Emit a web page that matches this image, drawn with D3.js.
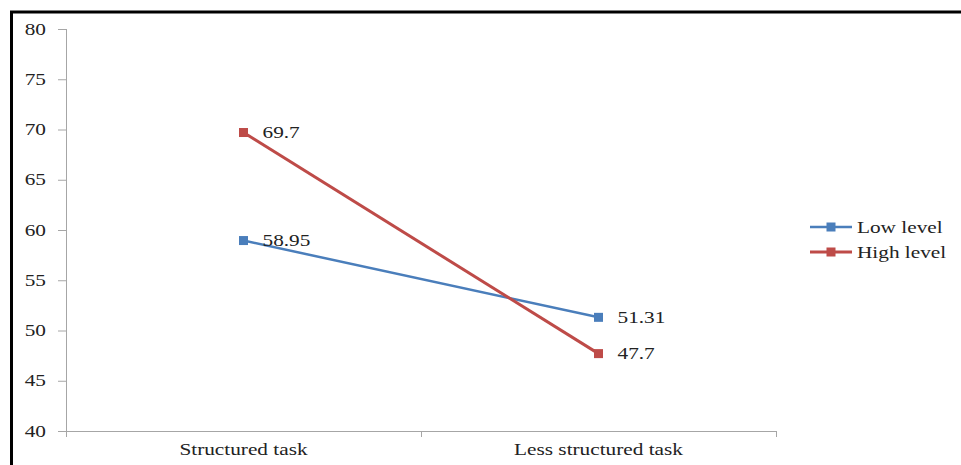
<!DOCTYPE html>
<html>
<head>
<meta charset="utf-8">
<script src="https://cdn.jsdelivr.net/npm/d3@7"></script>
<style>
  html, body { margin: 0; padding: 0; background: #fff; }
  svg { display: block; }
  text { font-family: "Liberation Serif", "Times New Roman", serif; fill: #222; }
</style>
</head>
<body>
<svg id="chart" width="961" height="465"></svg>
<script>
const categories = ["Structured task", "Less structured task"];
const seriesNames = ["Low level", "High level"];
const lowLevel = [58.95, 51.31];
const highLevel = [69.7, 47.7];
const yTicks = [40, 45, 50, 55, 60, 65, 70, 75, 80];
const colors = ["#4a7ebb", "#be4b48"];

const series = [
  { name: seriesNames[0], values: lowLevel, color: colors[0], width: 2.5 },
  { name: seriesNames[1], values: highLevel, color: colors[1], width: 3 }
];

const STRETCH = 1.33;

// widen text horizontally around its anchor point
function stretch(sel) {
  sel.each(function () {
    const t = d3.select(this);
    const tx = +t.attr("x") || 0;
    const ty = +t.attr("y") || 0;
    t.attr("x", 0).attr("y", 0)
      .attr("transform", `translate(${tx},${ty}) scale(${STRETCH},1)`);
  });
}

const svg = d3.select("#chart");

// outer frame
svg.append("rect")
  .attr("x", 11.5).attr("y", 12)
  .attr("width", 1000).attr("height", 500)
  .attr("fill", "none").attr("stroke", "#000").attr("stroke-width", 3);

const plot = { left: 66, right: 776, top: 29, bottom: 431 };

const x = d3.scaleBand().domain(categories).range([plot.left, plot.right]);
const y = d3.scaleLinear().domain([40, 80]).range([plot.bottom, plot.top]);

// y axis
const yAxis = svg.append("g")
  .attr("transform", `translate(${plot.left},0)`)
  .call(d3.axisLeft(y).tickValues(yTicks).tickSize(8).tickPadding(12).tickFormat(d3.format("d")));
yAxis.selectAll("line, path").attr("stroke", "#a6a6a6");
yAxis.select(".domain").attr("d", `M0.5,${plot.top}V${plot.bottom}`);
yAxis.selectAll("text").style("font-size", "16px").attr("fill", "#222")
  .style("font-family", "'Liberation Serif', serif").call(stretch);

// x axis
const xAxis = svg.append("g")
  .attr("transform", `translate(0,${plot.bottom})`)
  .call(d3.axisBottom(x).tickSize(0).tickPadding(12));
xAxis.select(".domain").attr("stroke", "#a6a6a6").attr("d", `M${plot.left},0.5H${plot.right}`);
xAxis.selectAll("text").style("font-size", "16px").attr("fill", "#222")
  .style("font-family", "'Liberation Serif', serif")
  .attr("y", 24).attr("dy", null).call(stretch);
// category boundary ticks
const bounds = [plot.left, plot.left + x.step(), plot.right];
xAxis.selectAll(".bound").data(bounds).enter().append("line")
  .attr("x1", d => d + 0.5).attr("x2", d => d + 0.5)
  .attr("y1", 0).attr("y2", 6)
  .attr("stroke", "#a6a6a6");

const cx = c => x(c) + x.bandwidth() / 2;

const line = d3.line()
  .x((d, i) => cx(categories[i]))
  .y(d => y(d));

series.forEach(s => {
  svg.append("path")
    .datum(s.values)
    .attr("d", line)
    .attr("fill", "none")
    .attr("stroke", s.color)
    .attr("stroke-width", s.width);
});

series.forEach(s => {
  const g = svg.append("g");
  g.selectAll("rect").data(s.values).enter().append("rect")
    .attr("x", (d, i) => cx(categories[i]) - 4.5)
    .attr("y", d => y(d) - 4.5)
    .attr("width", 9).attr("height", 9)
    .attr("fill", s.color);
  g.selectAll("text").data(s.values).enter().append("text")
    .attr("x", (d, i) => cx(categories[i]) + 19)
    .attr("y", d => y(d) + 5.5)
    .style("font-size", "16px")
    .text(d => d)
    .call(stretch);
});

// legend
const legend = svg.append("g");
series.forEach((s, i) => {
  const ly = 227 + i * 25;
  legend.append("line")
    .attr("x1", 810).attr("x2", 852)
    .attr("y1", ly).attr("y2", ly)
    .attr("stroke", s.color).attr("stroke-width", s.width);
  legend.append("rect")
    .attr("x", 826.5).attr("y", ly - 4.5)
    .attr("width", 9).attr("height", 9)
    .attr("fill", s.color);
  legend.append("text")
    .attr("x", 857).attr("y", ly + 5.5)
    .style("font-size", "16px")
    .text(s.name)
    .call(stretch);
});
</script>
</body>
</html>
